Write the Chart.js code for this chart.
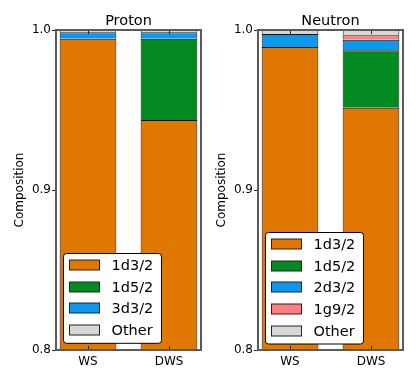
<!DOCTYPE html>
<html>
<head>
<meta charset="utf-8">
<script src="https://cdn.jsdelivr.net/npm/chart.js@4/dist/chart.umd.min.js"></script>
<style>
  html, body { margin: 0; padding: 0; background: #fff; }
  #wrap { position: relative; width: 418px; height: 382px; background: #fff; }
  canvas { position: absolute; top: 0; }
</style>
</head>
<body>
<div id="wrap">
  <canvas id="protonChart" width="202" height="382" style="left:0"></canvas>
  <canvas id="neutronChart" width="202" height="382" style="left:202px"></canvas>
</div>
<script>
// categories and tick labels
const categories = ['WS', 'DWS'];
const yTicks = [0.8, 0.9, 1.0];

// proton composition (WS, DWS)
const protonLabels = ['1d3/2', '1d5/2', '3d3/2', 'Other'];
const proton1d32 = [0.9946, 0.9438];
const proton1d52 = [0, 0.0508];
const proton3d32 = [0.0040, 0.0040];
const protonOther = [0.0014, 0.0014];

// neutron composition (WS, DWS)
const neutronLabels = ['1d3/2', '1d5/2', '2d3/2', '1g9/2', 'Other'];
const neutron1d32 = [0.9894, 0.9514];
const neutron1d52 = [0, 0.0359];
const neutron2d32 = [0.0081, 0.0066];
const neutron1g92 = [0, 0.0028];
const neutronOther = [0.0025, 0.0033];

const colours = {
  '1d3/2': '#e07701',
  '1d5/2': '#028a20',
  '3d3/2': '#0b98ef',
  '2d3/2': '#0b98ef',
  '1g9/2': '#ff7f7f',
  'Other': '#d5d9d3'
};

Chart.defaults.font.family = '"DejaVu Sans", sans-serif';
Chart.defaults.color = '#000';

function makeDataset(label, values) {
  return {
    label: label,
    // empty segments are left out so no zero-height border is drawn
    data: values.map((v, i) => ({ x: i, y: v ? v : null })),
    backgroundColor: colours[label],
    borderColor: '#111',
    // no bottom edge: the segment below supplies it, so joins stay 1px
    borderWidth: { top: 1, left: 1, right: 1, bottom: 0 },
    borderSkipped: false,
    barPercentage: 0.7,
    categoryPercentage: 1.0
  };
}

// frame, tick marks and title, matplotlib style
const axesFrame = {
  id: 'axesFrame',
  afterDatasetsDraw(chart) {
    const { ctx, chartArea: ca, scales } = chart;
    ctx.save();
    ctx.strokeStyle = '#222';
    ctx.lineWidth = 1;
    ctx.beginPath();
    scales.y.ticks.forEach(t => {
      const py = Math.round(scales.y.getPixelForValue(t.value)) + 0.5;
      ctx.moveTo(ca.left - 4, py); ctx.lineTo(ca.left, py);
      ctx.moveTo(ca.right, py); ctx.lineTo(ca.right + 4, py);
    });
    scales.x.ticks.forEach(t => {
      const px = Math.round(scales.x.getPixelForValue(t.value)) + 0.5;
      ctx.moveTo(px, ca.top); ctx.lineTo(px, ca.top + 4);
      ctx.moveTo(px, ca.bottom); ctx.lineTo(px, ca.bottom - 4);
    });
    ctx.stroke();
    ctx.strokeStyle = '#5a5a5a';
    ctx.lineWidth = 2;
    ctx.strokeRect(ca.left, ca.top, ca.right - ca.left, ca.bottom - ca.top);

    ctx.fillStyle = '#000';
    ctx.font = '14.5px "DejaVu Sans"';
    ctx.textAlign = 'center';
    ctx.textBaseline = 'alphabetic';
    ctx.fillText(chart.options.plotTitle, (ca.left + ca.right) / 2, ca.top - 5);
    ctx.restore();
  }
};

// legend drawn inside the lower left corner of the plot
const insideLegend = {
  id: 'insideLegend',
  afterDraw(chart) {
    const { ctx, chartArea: ca } = chart;
    const sets = chart.data.datasets;
    const rowH = 21.7;
    const w = 98, h = sets.length * rowH + 3;
    const x0 = Math.round(ca.left + 7) + 0.5;
    const y0 = Math.round(ca.bottom - 7 - h) + 0.5;
    ctx.save();
    ctx.beginPath();
    ctx.roundRect(x0, y0, w, h, 3);
    ctx.fillStyle = '#fff';
    ctx.fill();
    ctx.strokeStyle = '#000';
    ctx.lineWidth = 1;
    ctx.stroke();
    ctx.font = '14.5px "DejaVu Sans"';
    ctx.textBaseline = 'middle';
    sets.forEach((ds, i) => {
      const cy = Math.round(y0 + rowH * (i + 0.5) + 0.5);
      ctx.fillStyle = ds.backgroundColor;
      ctx.fillRect(x0 + 6, cy - 5, 30, 10);
      ctx.strokeStyle = '#222';
      ctx.strokeRect(x0 + 6, cy - 5, 30, 10);
      ctx.fillStyle = '#000';
      ctx.fillText(ds.label, x0 + 48, cy + 1);
    });
    ctx.restore();
  }
};

function buildChart(id, title, labels, series) {
  const el = document.getElementById(id);
  return new Chart(el, {
    type: 'bar',
    data: { datasets: labels.map((l, k) => makeDataset(l, series[k])) },
    options: {
      plotTitle: title,
      responsive: false,
      animation: false,
      devicePixelRatio: 1,
      layout: { padding: { left: 0, right: 1, top: 30, bottom: 0 } },
      plugins: {
        legend: { display: false },
        tooltip: { enabled: false },
        title: { display: false }
      },
      scales: {
        x: {
          type: 'linear',
          stacked: true,
          offset: false,
          min: -0.395,
          max: 1.395,
          grid: { display: false, drawTicks: false, offset: false },
          border: { display: false },
          afterBuildTicks: s => { s.ticks = categories.map((c, i) => ({ value: i })); },
          afterFit: s => { s.height = 32; },
          ticks: {
            padding: 5,
            font: { size: 12 },
            color: '#000',
            callback: v => categories[v]
          }
        },
        y: {
          stacked: true,
          min: 0.8,
          max: 1.0,
          grid: { display: false, drawTicks: false },
          border: { display: false },
          afterBuildTicks: s => { s.ticks = yTicks.map(v => ({ value: v })); },
          afterFit: s => { s.width = 56; },
          ticks: {
            padding: 5,
            font: { size: 12 },
            color: '#000',
            callback: v => Number(v).toFixed(1)
          },
          title: {
            display: true,
            text: 'Composition',
            color: '#000',
            font: { size: 12 },
            padding: { top: 12.8, bottom: 0 }
          }
        }
      }
    },
    plugins: [axesFrame, insideLegend]
  });
}

buildChart('protonChart', 'Proton', protonLabels,
  [proton1d32, proton1d52, proton3d32, protonOther]);
buildChart('neutronChart', 'Neutron', neutronLabels,
  [neutron1d32, neutron1d52, neutron2d32, neutron1g92, neutronOther]);
</script>
</body>
</html>
